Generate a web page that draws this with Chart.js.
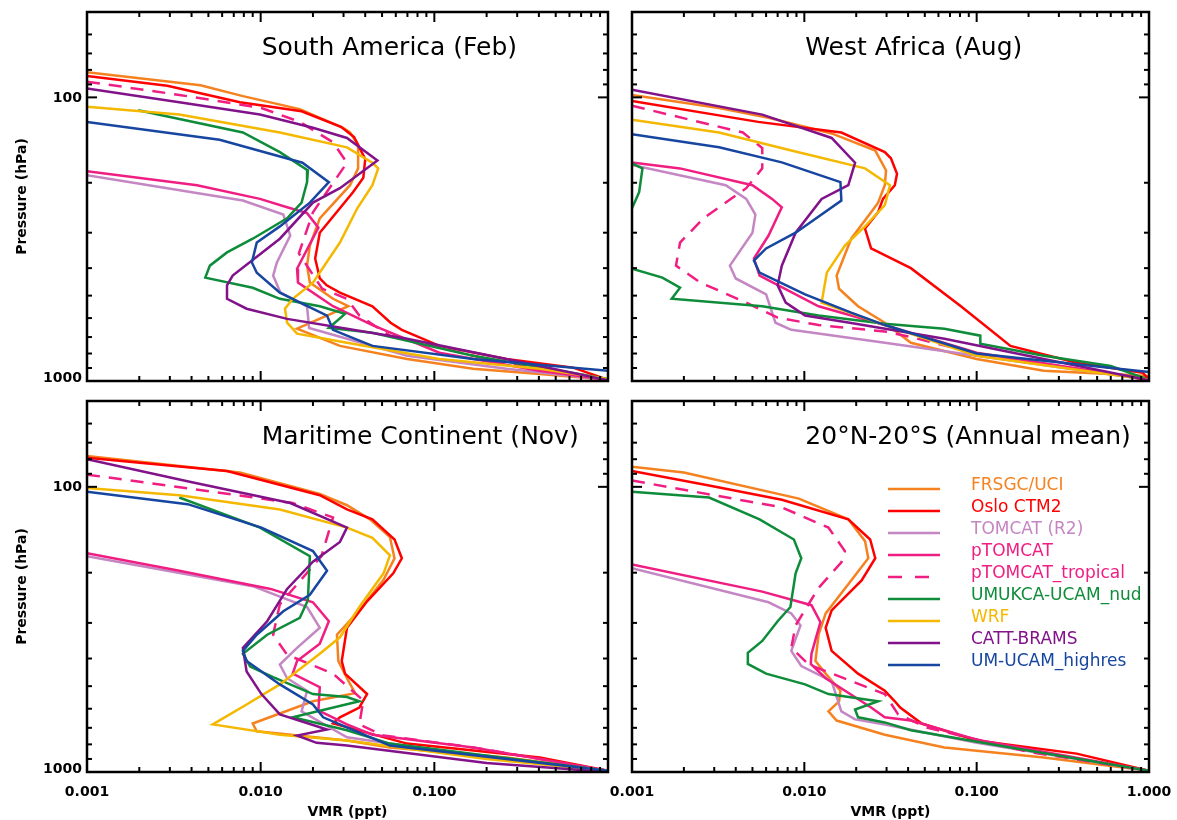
<!DOCTYPE html>
<html>
<head>
<meta charset="utf-8">
<title>Vertical profiles</title>
<script src="https://cdn.jsdelivr.net/npm/chart.js@4.4.1/dist/chart.umd.min.js"></script>
<style>
  html, body { margin: 0; padding: 0; background: #fff; }
  #page { position: relative; width: 1177px; height: 820px; overflow: hidden; }
  #page canvas { position: absolute; }
</style>
</head>
<body>
<div id="page">
  <canvas id="c1" width="620" height="395" style="left:0px;top:0px"></canvas>
  <canvas id="c2" width="581" height="395" style="left:596px;top:0px"></canvas>
  <canvas id="c3" width="620" height="425" style="left:0px;top:395px"></canvas>
  <canvas id="c4" width="581" height="425" style="left:596px;top:395px"></canvas>
</div>
<script>
// models, in legend order
const models = ["FRSGC/UCI", "Oslo CTM2", "TOMCAT (R2)", "pTOMCAT", "pTOMCAT_tropical",
  "UMUKCA-UCAM_nud", "WRF", "CATT-BRAMS", "UM-UCAM_highres"];
const colors = ["#f5821f", "#ff0000", "#c487c4", "#f01e82", "#f01e82",
  "#0e8c3a", "#f5b800", "#82128a", "#1646a0"];
const dashed = [false, false, false, false, true, false, false, false, false];

const xTickValues = [0.001, 0.01, 0.1, 1];
const xTickLabels = ["0.001", "0.010", "0.100", "1.000"];
const yTickValues = [100, 1000];
const yTickLabels = ["100", "1000"];

// each profile: [VMR (ppt), pressure (hPa)]
// South America (Feb)
const saFRSGC = [[0.001,81.5],[0.0045,90.6],[0.0079,99],[0.0168,110],[0.0298,128],[0.0327,133],[0.0364,147],[0.0364,178],[0.0327,204],[0.0219,267],[0.0192,333],[0.0185,392],[0.0192,450],[0.0261,513],[0.032,545],[0.0162,654],[0.0286,752],[0.0697,836],[0.167,906],[0.405,944],[1.0,990]];
const saOslo = [[0.001,84],[0.0029,91],[0.0076,104],[0.0172,112],[0.029,127],[0.0345,138],[0.040,165],[0.039,192],[0.034,216],[0.0219,300],[0.0206,370],[0.0219,435],[0.024,460],[0.0286,488],[0.044,545],[0.056,623],[0.065,660],[0.107,752],[0.26,836],[0.63,897],[1.0,990]];
const saTOMCAT = [[0.001,188],[0.0079,231],[0.0135,259],[0.0148,307],[0.0124,382],[0.0118,425],[0.013,488],[0.0185,546],[0.019,650],[0.0314,710],[0.0697,815],[0.26,906],[1.0,990]];
const saPTOMCAT = [[0.001,182],[0.0043,204],[0.0099,228],[0.0142,244],[0.0185,256],[0.0215,288],[0.0162,402],[0.0164,450],[0.0261,545],[0.044,635],[0.107,795],[0.4,920],[1.0,990]];
const saPTrop = [[0.001,88],[0.0034,98],[0.0101,109],[0.0168,122],[0.0261,144],[0.0314,170],[0.020,254],[0.0166,355],[0.0226,473],[0.0314,513],[0.037,588],[0.0555,692],[0.26,868],[1.0,990]];
const saUMUKCA = [[0.00197,111],[0.0079,133],[0.0129,156],[0.0187,181],[0.0185,199],[0.0172,235],[0.0142,267],[0.009,315],[0.0064,352],[0.0051,392],[0.0048,432],[0.009,469],[0.0129,513],[0.0219,545],[0.0306,580],[0.0247,650],[0.044,676],[0.167,815],[1.0,985]];
const saWRF = [[0.001,108],[0.0034,115],[0.0129,133],[0.0314,150],[0.044,170],[0.0475,178],[0.044,204],[0.036,246],[0.0286,325],[0.020,450],[0.0153,513],[0.0138,556],[0.0142,623],[0.0162,681],[0.0314,733],[0.107,836],[0.405,906],[1.0,985]];
const saCATT = [[0.001,93],[0.0034,104],[0.0099,115],[0.020,128],[0.0314,139],[0.047,167],[0.0286,209],[0.020,235],[0.0129,315],[0.0069,425],[0.0064,460],[0.0064,513],[0.0083,556],[0.0142,604],[0.0314,654],[0.0697,710],[0.26,836],[1.0,995]];
const saUMUCAM = [[0.001,122],[0.0058,141],[0.0174,170],[0.0247,199],[0.0192,235],[0.0129,285],[0.0095,325],[0.0089,382],[0.0095,415],[0.0129,488],[0.0241,588],[0.0261,660],[0.0314,692],[0.044,752],[0.167,836],[1.0,920],[1.2,925]];

// West Africa (Aug)
const waFRSGC = [[0.001,98],[0.0032,109],[0.0062,118],[0.0144,134],[0.0258,154],[0.0298,181],[0.0293,204],[0.0268,235],[0.0244,254],[0.0187,315],[0.0154,425],[0.0159,473],[0.0205,545],[0.0293,623],[0.0415,733],[0.1,836],[0.245,920],[1.0,960]];
const waOslo = [[0.001,103],[0.0054,122],[0.0164,133],[0.0293,156],[0.0318,164],[0.0345,186],[0.0335,204],[0.0286,228],[0.0268,254],[0.0225,290],[0.0244,341],[0.0415,400],[0.081,545],[0.157,752],[0.38,862],[0.92,935],[1.0,990]];
const waTOMCAT = [[0.001,173],[0.0035,204],[0.0046,228],[0.0052,259],[0.005,300],[0.0037,392],[0.004,435],[0.006,495],[0.0068,623],[0.0084,660],[0.0293,733],[0.1,815],[1.0,990]];
const waPTOMCAT = [[0.001,169.5],[0.0019,178],[0.005,204],[0.0065,228],[0.0074,244],[0.0062,307],[0.0051,370],[0.0055,425],[0.0121,545],[0.0293,635],[0.1,795],[1.0,990]];
const waPTrop = [[0.001,107],[0.0044,133],[0.0057,151],[0.0057,178],[0.0046,209],[0.0026,267],[0.0019,325],[0.0018,392],[0.0025,450],[0.0046,529],[0.007,598],[0.0121,635],[0.0293,669],[0.0415,700],[0.1,800],[1.0,990]];
const waUMUKCA = [[0.0007,160],[0.001,171],[0.00115,178],[0.0011,216],[0.001,246],[0.0005,300],[0.001,402],[0.0015,432],[0.0019,469],[0.0017,513],[0.0057,545],[0.0121,588],[0.0293,628],[0.065,654],[0.105,692],[0.105,739],[0.245,815],[0.6,885],[1.0,990]];
const waWRF = [[0.001,120],[0.0032,133],[0.0084,154],[0.0225,178],[0.0314,204],[0.0293,240],[0.0225,285],[0.0172,333],[0.0135,415],[0.0126,529],[0.0293,635],[0.1,815],[1.0,990]];
const waCATT = [[0.001,94],[0.0057,115],[0.0144,139],[0.0197,170],[0.018,204],[0.0126,228],[0.0089,300],[0.0074,392],[0.007,460],[0.0078,529],[0.0101,588],[0.0187,625],[0.065,710],[0.245,836],[1.0,995]];
const waUMUCAM = [[0.001,135],[0.0032,150],[0.0074,169.5],[0.0162,199],[0.0164,231],[0.0089,300],[0.006,341],[0.0051,376],[0.0055,415],[0.0101,495],[0.0187,574],[0.0293,635],[0.1,800],[1.0,930],[1.2,935]];

// Maritime Continent (Nov)
const mcFRSGC = [[0.001,78],[0.0076,89],[0.0219,106],[0.0314,116],[0.0426,130],[0.0555,150],[0.059,178],[0.051,212],[0.037,271],[0.0275,330],[0.028,408],[0.0314,469],[0.035,529],[0.020,565],[0.009,676],[0.0095,720],[0.0314,775],[0.0555,820],[0.26,890],[1.0,990]];
const mcOslo = [[0.001,79],[0.0064,88],[0.0219,107],[0.0314,120],[0.044,130],[0.059,153],[0.065,178],[0.058,201],[0.041,252],[0.0314,312],[0.0293,408],[0.0306,452],[0.041,533],[0.037,594],[0.0286,643],[0.0261,676],[0.0697,795],[0.405,890],[1.0,990]];
const mcTOMCAT = [[0.001,175],[0.009,223],[0.0185,264],[0.0219,312],[0.0162,367],[0.0129,420],[0.0142,469],[0.0185,519],[0.0172,613],[0.0314,756],[0.2,890],[1.0,990]];
const mcPTOMCAT = [[0.001,171],[0.0034,197],[0.0114,228],[0.02,254],[0.0247,296],[0.0219,355],[0.0162,408],[0.0153,452],[0.0219,504],[0.0215,608],[0.0314,681],[0.044,740],[0.167,820],[1.0,990]];
const mcPTrop = [[0.001,90.6],[0.0053,104],[0.0153,114],[0.0261,128],[0.0224,175],[0.0129,258],[0.0118,330],[0.0142,388],[0.0261,452],[0.039,561],[0.037,681],[0.051,745],[0.167,820],[1.0,990]];
const mcUMUKCA = [[0.0034,109],[0.0099,139],[0.0192,175],[0.0187,250],[0.0168,288],[0.0109,330],[0.0079,385],[0.0087,427],[0.0118,465],[0.02,533],[0.0314,546],[0.037,565],[0.0153,643],[0.0314,714],[0.0555,795],[1.0,990]];
const mcWRF = [[0.001,101],[0.0034,107],[0.0129,120],[0.0314,139],[0.044,151],[0.0555,174],[0.051,201],[0.037,264],[0.0286,337],[0.0219,385],[0.0129,493],[0.0083,580],[0.0053,681],[0.0129,740],[0.0314,775],[0.2,900],[1.0,990]];
const mcCATT = [[0.001,80],[0.0039,96],[0.0148,114],[0.0314,139],[0.0286,156],[0.02,183],[0.0142,228],[0.0109,296],[0.0079,367],[0.0083,444],[0.0101,533],[0.0129,628],[0.0241,710],[0.0162,745],[0.021,790],[0.0314,808],[0.2,930],[1.0,1000]];
const mcUMUCAM = [[0.001,104],[0.0038,115],[0.0101,139],[0.02,168],[0.0241,197],[0.0192,239],[0.0135,273],[0.0095,330],[0.0079,376],[0.0083,408],[0.0129,493],[0.02,580],[0.0229,643],[0.0314,698],[0.0555,808],[1.0,990]];

// 20N-20S (Annual mean)
const trFRSGC = [[0.001,85],[0.002,89],[0.0093,110],[0.018,130],[0.0225,155],[0.0235,178],[0.0187,213],[0.0133,278],[0.0121,330],[0.0116,408],[0.0133,452],[0.0162,519],[0.0159,565],[0.0138,613],[0.0154,660],[0.0293,740],[0.065,820],[0.245,890],[1.0,990]];
const trOslo = [[0.001,88],[0.0028,99],[0.0074,111],[0.018,130],[0.0241,153],[0.0258,178],[0.0215,213],[0.0144,271],[0.0133,312],[0.0144,376],[0.0205,452],[0.0293,519],[0.0335,565],[0.036,594],[0.048,676],[0.1,775],[0.38,862],[1.0,990]];
const trTOMCAT = [[0.001,193],[0.0062,254],[0.0084,278],[0.0095,306],[0.0084,376],[0.0096,425],[0.0144,480],[0.0164,613],[0.0197,654],[0.0293,681],[0.1,790],[1.0,990]];
const trPTOMCAT = [[0.001,187],[0.0057,233],[0.011,260],[0.0124,298],[0.011,385],[0.0109,418],[0.0133,469],[0.0244,594],[0.0293,643],[0.0415,660],[0.1,770],[1.0,990]];
const trPTrop = [[0.001,95],[0.0074,118],[0.0138,139],[0.0172,168],[0.0164,184],[0.0121,226],[0.0089,306],[0.0084,367],[0.0106,420],[0.0187,480],[0.0293,533],[0.035,628],[0.052,700],[0.2,850],[1.0,990]];
const trUMUKCA = [[0.001,104],[0.0028,109],[0.0055,130],[0.0087,153],[0.0096,178],[0.0089,201],[0.0083,264],[0.007,296],[0.0057,347],[0.0047,382],[0.0047,418],[0.006,452],[0.0101,493],[0.0138,533],[0.0268,565],[0.0197,604],[0.0205,643],[0.0293,670],[0.0415,714],[0.157,820],[1.0,990]];

const FONT = '"DejaVu Sans", sans-serif';

function minorTicks(decades) {
  const out = [];
  decades.forEach((d) => {
    for (let m = 2; m <= 9; m++) out.push(d * m);
  });
  return out;
}

const panelPlugin = {
  id: "panel",
  afterDatasetsDraw(chart, args, o) {
    const { ctx, chartArea: a } = chart;
    const x = chart.scales.x;
    const y = chart.scales.y;
    ctx.save();
    ctx.strokeStyle = "#000";
    ctx.lineWidth = 2;
    const seg = (x1, y1, x2, y2) => {
      ctx.beginPath();
      ctx.moveTo(x1, y1);
      ctx.lineTo(x2, y2);
      ctx.stroke();
    };
    // x ticks, pointing inward top and bottom
    const xMinor = minorTicks([0.001, 0.01, 0.1]);
    xMinor.concat(xTickValues).forEach((v) => {
      const px = x.getPixelForValue(v);
      const len = xTickValues.includes(v) ? 10 : 5;
      seg(px, a.bottom, px, a.bottom - len);
      seg(px, a.top, px, a.top + len);
    });
    const yMinor = [60, 70, 80, 90].concat(minorTicks([100]));
    yMinor.concat(yTickValues).forEach((v) => {
      const py = y.getPixelForValue(v);
      const len = yTickValues.includes(v) ? 10 : 5;
      seg(a.left, py, a.left + len, py);
      seg(a.right, py, a.right - len, py);
    });
    ctx.lineWidth = 2.5;
    ctx.strokeRect(a.left, a.top, a.right - a.left, a.bottom - a.top);

    ctx.fillStyle = "#000";
    if (o.yLabels) {
      ctx.font = "bold 14px " + FONT;
      ctx.textAlign = "right";
      ctx.textBaseline = "middle";
      yTickValues.forEach((v, i) => {
        const py = Math.min(y.getPixelForValue(v) + 1, a.bottom - 3);
        ctx.fillText(yTickLabels[i], a.left - 5, py);
      });
      ctx.save();
      ctx.translate(22, (a.top + a.bottom) / 2);
      ctx.rotate(-Math.PI / 2);
      ctx.textAlign = "center";
      ctx.fillText("Pressure (hPa)", 0, 0);
      ctx.restore();
    }
    if (o.xLabels) {
      ctx.font = "bold 14px " + FONT;
      ctx.textAlign = "center";
      ctx.textBaseline = "middle";
      xTickValues.forEach((v, i) => {
        if (!o.lastX && i === xTickValues.length - 1) return;
        ctx.fillText(xTickLabels[i], x.getPixelForValue(v), a.bottom + 20);
      });
      ctx.fillText("VMR (ppt)", (a.left + a.right) / 2, a.bottom + 40);
    }
    // panel title starts at the 0.01 tick
    ctx.font = "25px " + FONT;
    ctx.textAlign = "left";
    ctx.textBaseline = "alphabetic";
    ctx.fillText(o.title, x.getPixelForValue(0.01) + 1, a.top + 43);

    if (o.legend) {
      ctx.font = "17px " + FONT;
      models.forEach((name, i) => {
        const ly = a.top + 88 + 22 * i;
        const lx = a.left + 256;
        ctx.strokeStyle = colors[i];
        ctx.lineWidth = 2.5;
        ctx.setLineDash(dashed[i] ? [14, 13] : []);
        seg(lx, ly, lx + 52, ly);
        ctx.setLineDash([]);
        ctx.fillStyle = colors[i];
        ctx.fillText(name, lx + 83, ly + 1);
      });
    }
    ctx.restore();
  },
};

function makePanel(id, title, series, padding, flags) {
  const datasets = [];
  series.forEach((s, i) => {
    if (!s) return;
    datasets.push({
      label: models[i],
      data: s.map((p) => ({ x: p[0], y: p[1] })),
      borderColor: colors[i],
      borderWidth: 2.5,
      borderDash: dashed[i] ? [13, 9] : [],
      pointRadius: 0,
      tension: 0,
      fill: false,
      order: series.length - i,
    });
  });
  return new Chart(document.getElementById(id), {
    type: "line",
    data: { datasets: datasets },
    options: {
      responsive: false,
      animation: false,
      devicePixelRatio: 1,
      layout: { padding: padding },
      plugins: {
        legend: { display: false },
        tooltip: { enabled: false },
        panel: Object.assign({ title: title }, flags),
      },
      scales: {
        x: { type: "logarithmic", min: 0.001, max: 1, display: false },
        y: { type: "logarithmic", min: 50, max: 1000, reverse: true, display: false },
      },
    },
    plugins: [panelPlugin],
  });
}

makePanel("c1", "South America (Feb)",
  [saFRSGC, saOslo, saTOMCAT, saPTOMCAT, saPTrop, saUMUKCA, saWRF, saCATT, saUMUCAM],
  { left: 87, top: 12, right: 12, bottom: 14 }, { yLabels: true });
makePanel("c2", "West Africa (Aug)",
  [waFRSGC, waOslo, waTOMCAT, waPTOMCAT, waPTrop, waUMUKCA, waWRF, waCATT, waUMUCAM],
  { left: 36, top: 12, right: 28, bottom: 14 }, {});
makePanel("c3", "Maritime Continent (Nov)",
  [mcFRSGC, mcOslo, mcTOMCAT, mcPTOMCAT, mcPTrop, mcUMUKCA, mcWRF, mcCATT, mcUMUCAM],
  { left: 87, top: 6, right: 12, bottom: 48 }, { yLabels: true, xLabels: true });
makePanel("c4", "20°N-20°S (Annual mean)",
  [trFRSGC, trOslo, trTOMCAT, trPTOMCAT, trPTrop, trUMUKCA, null, null, null],
  { left: 36, top: 6, right: 28, bottom: 48 }, { xLabels: true, lastX: true, legend: true });
</script>
</body>
</html>
